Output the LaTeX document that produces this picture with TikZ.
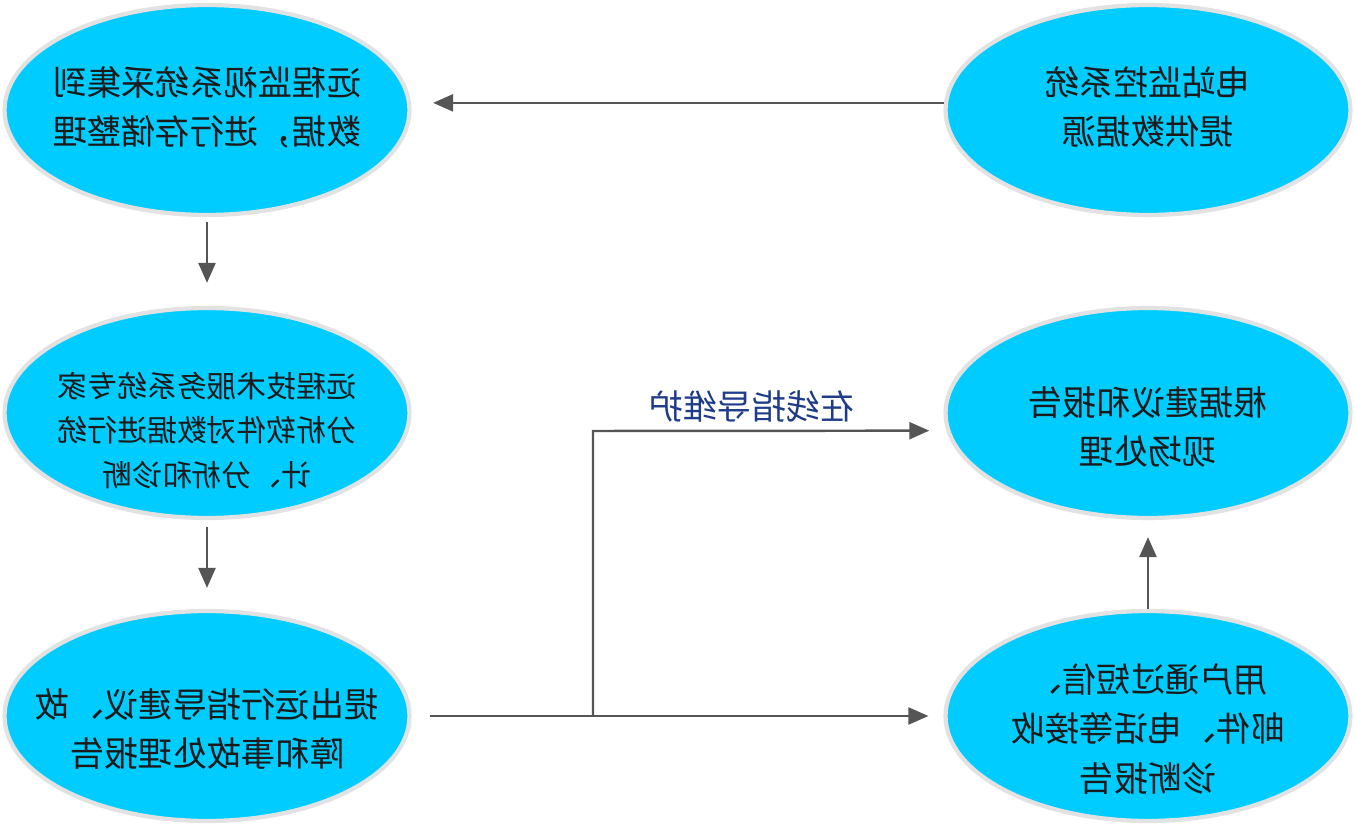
\documentclass[tikz,border=0pt]{standalone}
\usepackage{graphicx}
\usepackage{fontspec}
\setmainfont{Noto Sans CJK SC}
\usetikzlibrary{positioning, arrows.meta, shapes.geometric}
\definecolor{Sky}{HTML}{00CCFF}
\definecolor{Rim}{HTML}{E2E2E2}
\definecolor{Wire}{HTML}{555555}
\definecolor{Ink}{HTML}{1A1A1A}
\definecolor{Navy}{HTML}{1F3C88}
\newcommand{\flip}[2][0pt]{\raisebox{0pt}[\dimexpr\height+#1\relax][\depth]{\reflectbox{\begin{tabular}{@{}c@{}}#2\end{tabular}}}}
\tikzset{
    bubble/.style={ellipse, fill=Sky, draw=Rim, line width=2.4pt, minimum width=8.1cm, minimum height=4.2cm, inner xsep=-1.2cm, inner ysep=-0.8cm, text=Ink, font=\fontsize{19.5pt}{28pt}\selectfont},
    smalltext/.style={font=\fontsize{17pt}{25.2pt}\selectfont},
    arrow/.style={-{Triangle[length=0.4cm,width=0.34cm]}, line width=1.4pt, color=Wire},
    tag/.style={text=Navy, font=\fontsize{19.5pt}{28pt}\selectfont},
}
\begin{document}
\begin{tikzpicture}[x=0.02cm, y=-0.02cm]
        \useasboundingbox (0,0) rectangle (1355,827);
        \node[bubble] (collect) at (207,110) {\flip{远程监视系统采集到\\数据，进行存储整理}};
        \node[bubble] (source) at (1148,110) {\flip{电站监控系统\\提供数据源}};
        \node[bubble, smalltext] (analyse) at (207,413) {\flip[0.8cm]{远程技术服务系统专家\\分析软件对数据进行统\\计、分析和诊断}};
        \node[bubble] (onsite) at (1148,413) {\flip[0.68cm]{根据建议和报告\\现场处理}};
        \node[bubble] (advice) at (207,716) {\flip[0.64cm]{提出运行指导建议、故\\障和事故处理报告}};
        \node[bubble] (notify) at (1148,716) {\flip[0.64cm]{用户通过短信、\\邮件、电话等接收\\诊断报告}};
        \coordinate (fork) at (593,716);
        \coordinate (bend) at (593,431);

        \draw[arrow, shorten >=0.44cm] (source.178) -- (collect.2);
        \draw[arrow, shorten <=0.1cm, shorten >=0.46cm] (collect.south) -- (analyse.north);
        \draw[arrow, shorten <=0.14cm, shorten >=0.42cm] (analyse.south) -- (advice.north);
        \draw[arrow, shorten <=0.36cm, shorten >=0.3cm] (advice.east) -- (notify.west);
        \draw[arrow, shorten >=0.34cm] (fork) -- (bend) -- (onsite.185) node[tag, pos=0.45, above=-6pt] {\flip{在线指导维护}};
        \draw[arrow, shorten >=0.34cm] (notify.north) -- (onsite.south);
    \end{tikzpicture}
\end{document}
